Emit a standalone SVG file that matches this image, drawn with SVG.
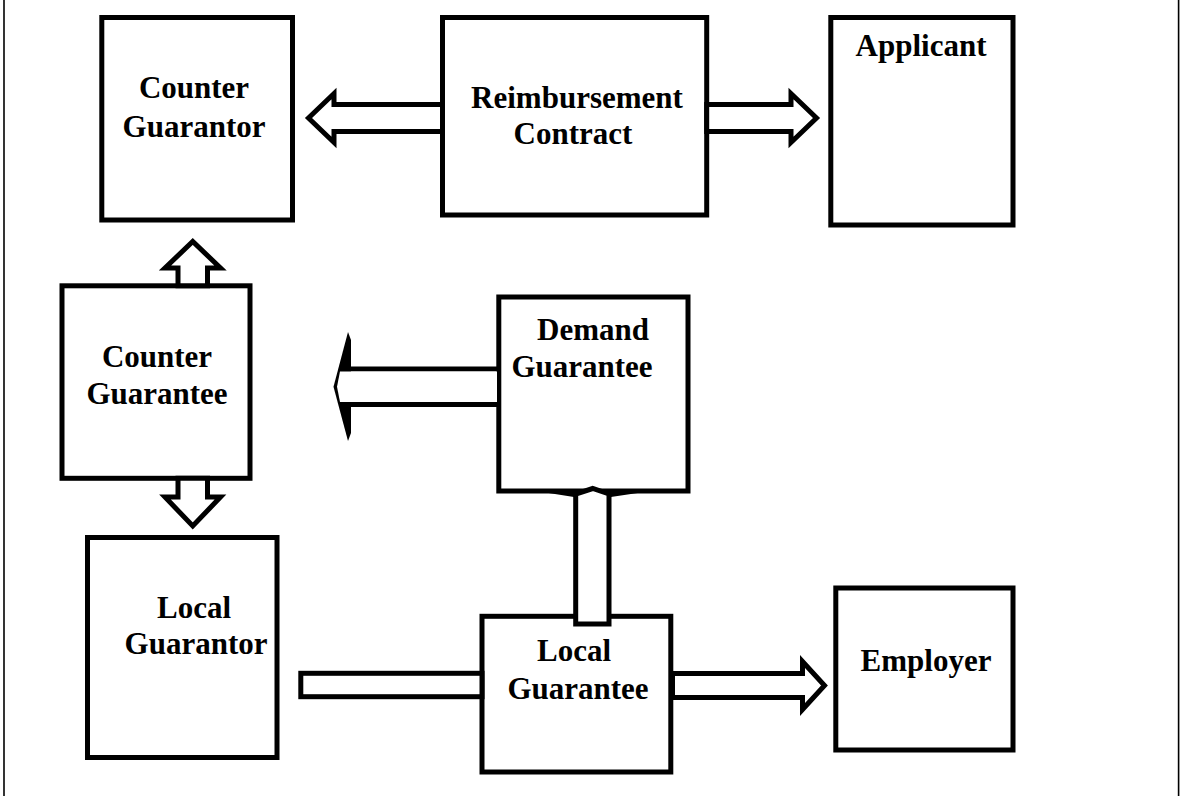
<svg xmlns="http://www.w3.org/2000/svg" width="1180" height="796" viewBox="0 0 1180 796">
  <style>
    .box { fill: #fff; stroke: #000; stroke-width: 5; }
    .arrow { fill: #fff; stroke: #000; stroke-width: 5; stroke-linejoin: miter; stroke-miterlimit: 10; }
    .ink { fill: #000; }
    .label { font-family: "Liberation Serif", "Times New Roman", serif; font-weight: bold; font-size: 31px; fill: #000; text-anchor: middle; }
  </style>

  <rect width="1180" height="796" fill="#fff"/>
  <!-- side rules of the page frame -->
  <line x1="4" y1="0" x2="4" y2="796" stroke="#000" stroke-width="1.6"/>
  <line x1="1178.6" y1="0" x2="1178.6" y2="796" stroke="#000" stroke-width="1.6"/>

  <g id="counter-guarantor">
    <rect class="box" x="101.8" y="17.5" width="190.7" height="202.5"/>
    <text class="label" x="194" y="98">Counter</text>
    <text class="label" x="194" y="137">Guarantor</text>
  </g>

  <g id="reimbursement-contract">
    <rect class="box" x="442.5" y="17.5" width="264.2" height="197.5"/>
    <text class="label" x="577" y="108">Reimbursement</text>
    <text class="label" x="573" y="144">Contract</text>
  </g>

  <g id="applicant">
    <rect class="box" x="830.8" y="17.5" width="182.2" height="207.5"/>
    <text class="label" x="921" y="56">Applicant</text>
  </g>

  <g id="counter-guarantee">
    <rect class="box" x="62" y="285.8" width="188" height="192.5"/>
    <text class="label" x="157" y="367">Counter</text>
    <text class="label" x="157" y="404">Guarantee</text>
  </g>

  <g id="demand-guarantee">
    <rect class="box" x="498.8" y="297" width="189.2" height="194"/>
    <text class="label" x="593" y="340">Demand</text>
    <text class="label" x="582" y="377">Guarantee</text>
  </g>

  <g id="local-guarantor">
    <rect class="box" x="87.5" y="537.5" width="189.5" height="220"/>
    <text class="label" x="194" y="618">Local</text>
    <text class="label" x="196" y="654">Guarantor</text>
  </g>

  <g id="local-guarantee">
    <rect class="box" x="482" y="616.3" width="188.8" height="155.7"/>
    <text class="label" x="574" y="661">Local</text>
    <text class="label" x="578" y="699">Guarantee</text>
  </g>

  <g id="employer">
    <rect class="box" x="835.8" y="588" width="177.2" height="162"/>
    <text class="label" x="926" y="671">Employer</text>
  </g>

  <g id="connectors">
    <!-- reimbursement contract to counter guarantor -->
    <path class="arrow" d="M442.5,104.5 H334 V93.5 L308.5,118 L334,142.5 V131.5 H442.5 Z"/>
    <!-- reimbursement contract to applicant -->
    <path class="arrow" d="M706.7,104.5 H791 V93.5 L816.5,118 L791,142.5 V131.5 H706.7 Z"/>
    <!-- counter guarantee up to counter guarantor -->
    <path class="arrow" d="M178,285.8 V268 H165 L192.75,241.5 L220.5,268 H207.5 V285.8 Z"/>
    <!-- counter guarantee down to local guarantor -->
    <path class="arrow" d="M178,478.3 V497 H165 L192.75,526 L220.5,497 H207.5 V478.3 Z"/>

    <!-- demand guarantee towards the left: narrow spiked head -->
    <g id="demand-arrow">
      <polygon class="ink" points="348,332 351,340 351,433 348,441 333.5,386.75"/>
      <line x1="340" y1="369" x2="499" y2="369" stroke="#000" stroke-width="5"/>
      <line x1="340" y1="404.5" x2="499" y2="404.5" stroke="#000" stroke-width="5"/>
      <polygon fill="#fff" points="497,371.5 340,371.5 337,386.75 340,402 497,402"/>
    </g>

    <!-- local guarantee up to demand guarantee: flat spiked head -->
    <g id="local-up-arrow">
      <polygon class="ink" points="536,491 577,491 577,497.5"/>
      <polygon class="ink" points="607.5,491 651,491 607.5,497.5"/>
      <path class="arrow" d="M575.7,624 V494 L592.7,488.5 L609,494 V624 Z"/>
    </g>

    <!-- local guarantor bar into local guarantee -->
    <rect class="arrow" x="300.8" y="673.3" width="181.2" height="23.4"/>
    <!-- local guarantee to employer -->
    <path class="arrow" d="M672.5,673.5 H802.5 V661.5 L824.5,685.5 L802.5,709.5 V697.5 H672.5 Z"/>
  </g>
</svg>
